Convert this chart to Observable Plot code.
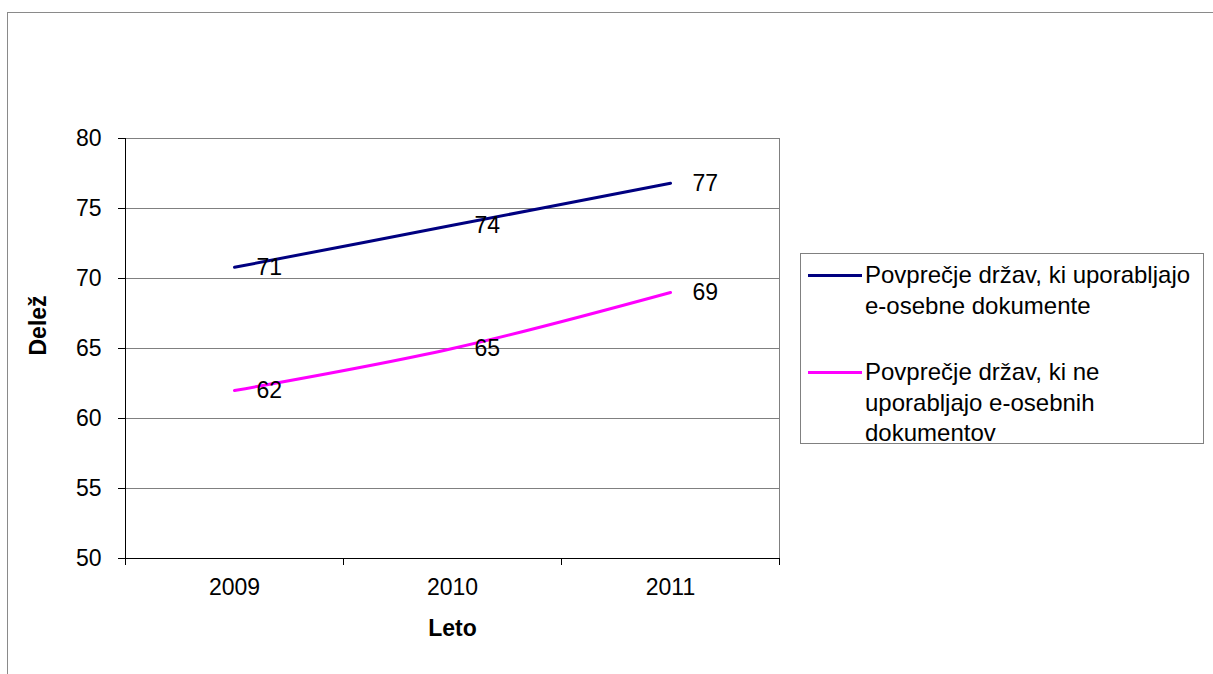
<!DOCTYPE html>
<html>
<head>
<meta charset="utf-8">
<script src="https://cdn.jsdelivr.net/npm/d3@7"></script>
<script src="https://cdn.jsdelivr.net/npm/@observablehq/plot@0.6"></script>
<style>
  html, body { margin: 0; padding: 0; background: #fff; }
  #wrap { position: relative; width: 1213px; height: 674px; overflow: hidden;
          font-family: "Liberation Sans", Arial, sans-serif; color: #000; }
  #outer { position: absolute; left: 7px; top: 12px; width: 1300px; height: 800px;
           border-left: 1px solid #8a8a8a; border-top: 1px solid #8a8a8a; }
  #chart { position: absolute; left: 0; top: 0; }
  #legend { position: absolute; left: 800px; top: 253px; width: 404px; height: 191px;
            border: 1px solid #808080; background: #fff; box-sizing: border-box; }
  .entry { position: absolute; left: 7px; display: flex; align-items: flex-start; }
  .swatch { width: 54px; height: 0; border-top: 3px solid; margin-top: 12px; flex: none; }
  .label { font-size: 24px; line-height: 30.5px; margin-top: -2px; margin-left: 3px; white-space: nowrap; }
</style>
</head>
<body>
<div id="wrap">
  <div id="outer"></div>
  <div id="chart"></div>
  <div id="legend"></div>
</div>
<script>
// Years on the category axis
const years = [2009, 2010, 2011];
// Share (Delež) for each group of countries
const withEid = [70.8, 73.8, 76.8];
const withoutEid = [62.0, 65.0, 69.0];
// Series names and colours
const seriesNames = [
  "Povprečje držav, ki uporabljajo e-osebne dokumente",
  "Povprečje držav, ki ne uporabljajo e-osebnih dokumentov"
];
const seriesLegendLines = [
  ["Povprečje držav, ki uporabljajo", "e-osebne dokumente"],
  ["Povprečje držav, ki ne", "uporabljajo e-osebnih", "dokumentov"]
];
const seriesColors = ["#000080", "#ff00ff"];
// Value axis ticks
const yTicks = [50, 55, 60, 65, 70, 75, 80];

const rows = [];
years.forEach((yr, i) => {
  rows.push({year: yr, value: withEid[i], series: seriesNames[0]});
  rows.push({year: yr, value: withoutEid[i], series: seriesNames[1]});
});

// Category boundaries halfway between years, used for the x tick marks
const bounds = [years[0] - 0.5, ...years.map(y => y + 0.5)];
const fmt = d3.format(".0f");
const FS = 23;

const chart = Plot.plot({
  width: 1213,
  height: 674,
  marginLeft: 125,
  marginRight: 434,
  marginTop: 138,
  marginBottom: 116,
  style: {fontFamily: "'Liberation Sans', Arial, sans-serif", fontSize: FS + "px", background: "transparent", color: "#000"},
  x: {type: "linear", domain: [bounds[0], bounds[bounds.length - 1]]},
  y: {domain: [50, 80]},
  color: {domain: seriesNames, range: seriesColors},
  marks: [
    Plot.gridY(yTicks, {stroke: "#808080", strokeOpacity: 1}),
    Plot.frame({stroke: "#808080"}),
    Plot.ruleX([bounds[0]], {stroke: "#000"}),
    Plot.ruleY([50], {stroke: "#000"}),
    Plot.axisY({ticks: yTicks, tickSize: 7, tickPadding: 17, fontSize: FS, label: null}),
    Plot.axisX({ticks: bounds, tickSize: 7, tickFormat: () => "", label: null}),
    Plot.axisX({ticks: years, tickSize: 0, tickPadding: 20, fontSize: FS, tickFormat: d => String(d), label: null}),
    Plot.text(["Leto"], {frameAnchor: "bottom", dy: 77, fontSize: FS, fontWeight: "bold"}),
    Plot.text(["Delež"], {frameAnchor: "left", dx: -87, dy: 7, rotate: -90, fontSize: FS, fontWeight: "bold"}),
    Plot.line(rows, {x: "year", y: "value", z: "series", stroke: "series", strokeWidth: 3, curve: "catmull-rom"}),
    Plot.text(rows, {x: "year", y: "value", text: d => fmt(d.value), dx: 22, textAnchor: "start", fontSize: FS})
  ]
});
document.getElementById("chart").appendChild(chart);

// Legend
const legend = document.getElementById("legend");
const tops = [8, 105];
seriesLegendLines.forEach((lines, i) => {
  const e = document.createElement("div");
  e.className = "entry";
  e.style.top = tops[i] + "px";
  const sw = document.createElement("div");
  sw.className = "swatch";
  sw.style.borderTopColor = seriesColors[i];
  const lab = document.createElement("div");
  lab.className = "label";
  lab.innerHTML = lines.join("<br>");
  e.appendChild(sw);
  e.appendChild(lab);
  legend.appendChild(e);
});
</script>
</body>
</html>
